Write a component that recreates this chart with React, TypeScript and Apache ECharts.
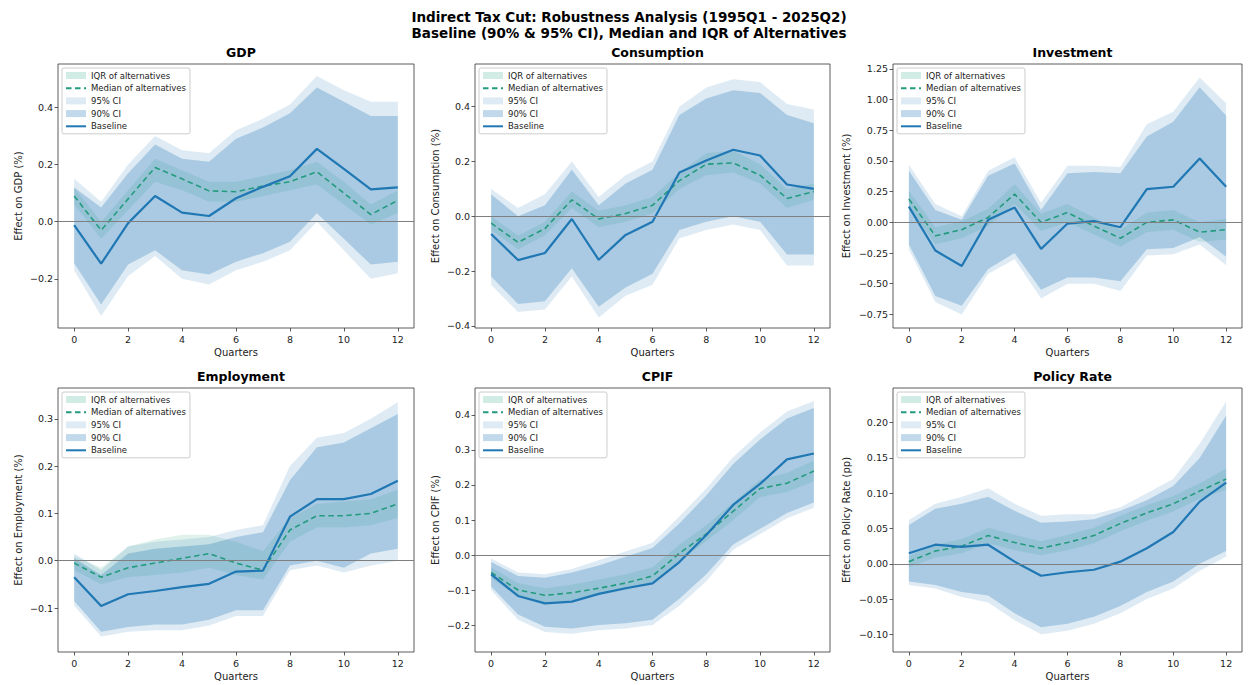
import React, { useEffect, useRef } from "react";
import * as echarts from "echarts";

// ---------------- DATA ----------------
const QUARTERS = [0, 1, 2, 3, 4, 5, 6, 7, 8, 9, 10, 11, 12];
const X_TICKS = [0, 2, 4, 6, 8, 10, 12];

const PANEL_TITLES = ["GDP", "Consumption", "Investment", "Employment", "CPIF", "Policy Rate"];
const Y_NAMES = [
  "Effect on GDP (%)",
  "Effect on Consumption (%)",
  "Effect on Investment (%)",
  "Effect on Employment (%)",
  "Effect on CPIF (%)",
  "Effect on Policy Rate (pp)",
];

// GDP
const gdpBase = [-0.012, -0.147, -0.005, 0.09, 0.032, 0.02, 0.082, 0.122, 0.159, 0.255, 0.185, 0.113, 0.12];
const gdpMed = [0.09, -0.03, 0.08, 0.19, 0.15, 0.108, 0.105, 0.125, 0.14, 0.175, 0.1, 0.025, 0.075];
const gdpIqrLo = [0.06, -0.06, 0.04, 0.14, 0.11, 0.07, 0.07, 0.09, 0.11, 0.13, 0.06, -0.01, 0.03];
const gdpIqrHi = [0.12, 0.0, 0.11, 0.22, 0.18, 0.14, 0.14, 0.16, 0.18, 0.21, 0.14, 0.06, 0.11];
const gdpLo90 = [-0.145, -0.29, -0.15, -0.1, -0.17, -0.185, -0.14, -0.11, -0.07, 0.03, -0.06, -0.15, -0.14];
const gdpHi90 = [0.12, 0.05, 0.17, 0.27, 0.22, 0.21, 0.29, 0.33, 0.38, 0.47, 0.42, 0.37, 0.37];
const gdpLo95 = [-0.17, -0.33, -0.19, -0.12, -0.2, -0.22, -0.17, -0.14, -0.1, 0.0, -0.1, -0.2, -0.18];
const gdpHi95 = [0.15, 0.07, 0.2, 0.3, 0.25, 0.24, 0.32, 0.36, 0.41, 0.51, 0.46, 0.42, 0.42];

// Consumption
const conBase = [-0.065, -0.16, -0.134, -0.01, -0.159, -0.068, -0.02, 0.16, 0.204, 0.243, 0.222, 0.116, 0.1];
const conMed = [-0.025, -0.095, -0.045, 0.06, -0.01, 0.01, 0.04, 0.13, 0.19, 0.195, 0.15, 0.065, 0.09];
const conIqrLo = [-0.05, -0.12, -0.07, 0.03, -0.04, -0.02, 0.01, 0.1, 0.15, 0.16, 0.12, 0.03, 0.06];
const conIqrHi = [0.0, -0.07, -0.02, 0.09, 0.02, 0.04, 0.07, 0.16, 0.23, 0.24, 0.19, 0.1, 0.12];
const conLo90 = [-0.22, -0.32, -0.31, -0.19, -0.33, -0.26, -0.21, -0.05, -0.02, 0.0, -0.02, -0.14, -0.14];
const conHi90 = [0.08, 0.0, 0.04, 0.17, 0.04, 0.12, 0.17, 0.37, 0.43, 0.46, 0.45, 0.37, 0.34];
const conLo95 = [-0.25, -0.35, -0.34, -0.22, -0.37, -0.29, -0.25, -0.08, -0.05, -0.03, -0.05, -0.18, -0.18];
const conHi95 = [0.1, 0.03, 0.08, 0.2, 0.07, 0.15, 0.2, 0.4, 0.47, 0.5, 0.49, 0.41, 0.39];

// Investment
const invBase = [0.128, -0.23, -0.356, 0.02, 0.12, -0.217, -0.01, 0.01, -0.04, 0.27, 0.29, 0.52, 0.29];
const invMed = [0.19, -0.11, -0.06, 0.04, 0.23, 0.0, 0.08, -0.03, -0.13, 0.0, 0.02, -0.08, -0.06];
const invIqrLo = [0.12, -0.18, -0.13, -0.03, 0.15, -0.07, 0.0, -0.1, -0.2, -0.08, -0.06, -0.16, -0.14];
const invIqrHi = [0.26, -0.04, 0.01, 0.11, 0.31, 0.07, 0.15, 0.04, -0.06, 0.08, 0.1, 0.0, 0.03];
const invLo90 = [-0.18, -0.6, -0.68, -0.38, -0.25, -0.55, -0.45, -0.45, -0.48, -0.22, -0.21, -0.12, -0.28];
const invHi90 = [0.42, 0.1, 0.02, 0.38, 0.48, 0.1, 0.4, 0.41, 0.4, 0.7, 0.82, 1.1, 0.87];
const invLo95 = [-0.22, -0.65, -0.75, -0.42, -0.3, -0.62, -0.5, -0.5, -0.56, -0.27, -0.26, -0.18, -0.35];
const invHi95 = [0.47, 0.15, 0.05, 0.42, 0.53, 0.16, 0.46, 0.46, 0.45, 0.8, 0.9, 1.18, 0.97];

// Employment
const empBase = [-0.035, -0.096, -0.071, -0.064, -0.056, -0.049, -0.023, -0.021, 0.093, 0.13, 0.13, 0.141, 0.169];
const empMed = [-0.005, -0.035, -0.015, -0.005, 0.005, 0.015, -0.005, -0.02, 0.065, 0.095, 0.095, 0.1, 0.12];
const empIqrLo = [-0.02, -0.05, -0.035, -0.03, -0.025, -0.015, -0.03, -0.04, 0.04, 0.07, 0.07, 0.075, 0.09];
const empIqrHi = [0.01, -0.015, 0.03, 0.045, 0.055, 0.055, 0.04, 0.02, 0.09, 0.12, 0.125, 0.13, 0.15];
const empLo90 = [-0.085, -0.15, -0.14, -0.135, -0.135, -0.125, -0.105, -0.105, -0.01, 0.0, -0.015, 0.015, 0.025];
const empHi90 = [0.005, -0.03, 0.015, 0.025, 0.03, 0.035, 0.05, 0.06, 0.17, 0.24, 0.25, 0.28, 0.31];
const empLo95 = [-0.095, -0.16, -0.15, -0.147, -0.147, -0.137, -0.117, -0.117, -0.02, -0.01, -0.025, -0.01, 0.0];
const empHi95 = [0.015, -0.02, 0.03, 0.04, 0.045, 0.05, 0.065, 0.075, 0.2, 0.26, 0.27, 0.3, 0.335];

// CPIF
const cpiBase = [-0.055, -0.117, -0.138, -0.133, -0.111, -0.095, -0.081, -0.02, 0.057, 0.143, 0.203, 0.273, 0.29];
const cpiMed = [-0.05, -0.1, -0.115, -0.108, -0.095, -0.08, -0.06, 0.005, 0.06, 0.125, 0.19, 0.205, 0.24];
const cpiIqrLo = [-0.065, -0.12, -0.135, -0.13, -0.115, -0.1, -0.08, -0.02, 0.04, 0.1, 0.165, 0.18, 0.21];
const cpiIqrHi = [-0.035, -0.08, -0.095, -0.085, -0.07, -0.055, -0.035, 0.03, 0.085, 0.15, 0.215, 0.235, 0.27];
const cpiLo90 = [-0.09, -0.17, -0.205, -0.21, -0.2, -0.195, -0.185, -0.125, -0.055, 0.03, 0.075, 0.12, 0.15];
const cpiHi90 = [-0.02, -0.06, -0.065, -0.05, -0.03, -0.005, 0.02, 0.09, 0.17, 0.26, 0.33, 0.39, 0.42];
const cpiLo95 = [-0.1, -0.185, -0.22, -0.225, -0.215, -0.21, -0.2, -0.145, -0.075, 0.015, 0.06, 0.105, 0.135];
const cpiHi95 = [-0.01, -0.05, -0.055, -0.04, -0.015, 0.01, 0.035, 0.11, 0.19, 0.28, 0.35, 0.41, 0.44];

// Policy Rate
const polBase = [0.015, 0.027, 0.024, 0.027, 0.003, -0.017, -0.012, -0.0085, 0.003, 0.022, 0.045, 0.088, 0.115];
const polMed = [0.003, 0.018, 0.025, 0.04, 0.03, 0.022, 0.03, 0.04, 0.057, 0.072, 0.085, 0.103, 0.12];
const polIqrLo = [-0.005, 0.009, 0.015, 0.029, 0.019, 0.012, 0.019, 0.029, 0.046, 0.061, 0.074, 0.092, 0.105];
const polIqrHi = [0.011, 0.027, 0.035, 0.051, 0.041, 0.032, 0.041, 0.051, 0.068, 0.083, 0.096, 0.114, 0.135];
const polLo90 = [-0.025, -0.03, -0.04, -0.045, -0.07, -0.09, -0.085, -0.075, -0.06, -0.04, -0.025, 0.0, 0.018];
const polHi90 = [0.055, 0.078, 0.085, 0.095, 0.075, 0.058, 0.06, 0.063, 0.075, 0.09, 0.11, 0.15, 0.21];
const polLo95 = [-0.03, -0.035, -0.047, -0.055, -0.08, -0.1, -0.095, -0.085, -0.07, -0.05, -0.035, -0.01, 0.01];
const polHi95 = [0.062, 0.085, 0.095, 0.107, 0.085, 0.068, 0.07, 0.07, 0.08, 0.1, 0.12, 0.17, 0.23];

// y-axis ranges and tick labels
const Y_MIN = [-0.372, -0.408, -0.861, -0.193, -0.277, -0.125];
const Y_MAX = [0.552, 0.556, 1.29, 0.365, 0.477, 0.249];
const Y_TICKS = [
  [-0.2, 0, 0.2, 0.4],
  [-0.4, -0.2, 0, 0.2, 0.4],
  [-0.75, -0.5, -0.25, 0, 0.25, 0.5, 0.75, 1.0, 1.25],
  [-0.1, 0, 0.1, 0.2, 0.3],
  [-0.2, -0.1, 0, 0.1, 0.2, 0.3, 0.4],
  [-0.1, -0.05, 0, 0.05, 0.1, 0.15, 0.2],
];
const Y_DECIMALS = [1, 1, 2, 1, 1, 2];

const PANELS = [
  { base: gdpBase, med: gdpMed, iqrLo: gdpIqrLo, iqrHi: gdpIqrHi, lo90: gdpLo90, hi90: gdpHi90, lo95: gdpLo95, hi95: gdpHi95 },
  { base: conBase, med: conMed, iqrLo: conIqrLo, iqrHi: conIqrHi, lo90: conLo90, hi90: conHi90, lo95: conLo95, hi95: conHi95 },
  { base: invBase, med: invMed, iqrLo: invIqrLo, iqrHi: invIqrHi, lo90: invLo90, hi90: invHi90, lo95: invLo95, hi95: invHi95 },
  { base: empBase, med: empMed, iqrLo: empIqrLo, iqrHi: empIqrHi, lo90: empLo90, hi90: empHi90, lo95: empLo95, hi95: empHi95 },
  { base: cpiBase, med: cpiMed, iqrLo: cpiIqrLo, iqrHi: cpiIqrHi, lo90: cpiLo90, hi90: cpiHi90, lo95: cpiLo95, hi95: cpiHi95 },
  { base: polBase, med: polMed, iqrLo: polIqrLo, iqrHi: polIqrHi, lo90: polLo90, hi90: polHi90, lo95: polLo95, hi95: polHi95 },
];

const N_IQR = "IQR of alternatives";
const N_MED = "Median of alternatives";
const N_95 = "95% CI";
const N_90 = "90% CI";
const N_BASE = "Baseline";

// ---------------- STYLE ----------------
const FONT = "DejaVu Sans";
const C_BASE = "#1f77b4";
const C_MED = "#239b7e";
const C_IQR = "rgba(27,158,119,0.13)";
const C_IQR_LEGEND = "rgba(27,158,119,0.2)";
const C_95 = "rgba(31,119,180,0.15)";
const C_90 = "rgba(31,119,180,0.28)";

const GRIDS = [
  { left: 58, top: 64, width: 356, height: 264 },
  { left: 475, top: 64, width: 355, height: 264 },
  { left: 893, top: 64, width: 349, height: 264 },
  { left: 58, top: 388, width: 356, height: 264 },
  { left: 475, top: 388, width: 355, height: 264 },
  { left: 893, top: 388, width: 349, height: 264 },
];
const Y_NAME_GAP = [35, 35, 42, 35, 35, 42];

function fmt(v: number, d: number): string {
  const s = Math.abs(v).toFixed(d);
  return (v < -1e-9 ? "\u2212" : "") + s;
}

function bandPolygon(lo: number[], hi: number[]): number[][] {
  const pts: number[][] = [];
  QUARTERS.forEach((q, i) => pts.push([q, hi[i]]));
  for (let i = QUARTERS.length - 1; i >= 0; i--) pts.push([QUARTERS[i], lo[i]]);
  return pts;
}

function bandSeries(name: string, lo: number[], hi: number[], color: string, idx: number) {
  const poly = bandPolygon(lo, hi);
  return {
    type: "custom",
    name,
    xAxisIndex: idx,
    yAxisIndex: idx,
    silent: true,
    itemStyle: { color },
    data: poly,
    encode: { x: 0, y: 1 },
    renderItem: (params: any, api: any) => {
      if (params.dataIndex !== 0) return null;
      const points = poly.map((p) => api.coord(p));
      return { type: "polygon", shape: { points }, style: { fill: color } };
    },
  };
}

function buildOption() {
  const grid: any[] = [];
  const xAxis: any[] = [];
  const yAxis: any[] = [];
  const series: any[] = [];
  const legend: any[] = [];
  const title: any[] = [
    {
      text: "Indirect Tax Cut: Robustness Analysis (1995Q1 - 2025Q2)\nBaseline (90% & 95% CI), Median and IQR of Alternatives",
      left: 624,
      top: 4,
      textAlign: "center",
      textStyle: { fontFamily: FONT, fontSize: 13.5, fontWeight: "bold", color: "#000", lineHeight: 16 },
    },
  ];

  PANELS.forEach((p, i) => {
    const g = GRIDS[i];
    grid.push({ ...g, show: true, borderColor: "#333", borderWidth: 0.8, backgroundColor: "transparent" });
    title.push({
      text: PANEL_TITLES[i],
      left: g.left + g.width / 2,
      top: g.top - 23,
      textAlign: "center",
      textStyle: { fontFamily: FONT, fontSize: 12.5, fontWeight: "bold", color: "#000" },
    });
    xAxis.push({
      type: "value",
      gridIndex: i,
      min: -0.6,
      max: 12.6,
      name: "Quarters",
      nameLocation: "middle",
      nameGap: 19,
      nameTextStyle: { fontFamily: FONT, fontSize: 10, color: "#222" },
      axisLine: { show: false, onZero: false },
      axisTick: { show: true, length: 3.5, lineStyle: { color: "#333", width: 0.8 }, customValues: X_TICKS },
      axisLabel: {
        fontFamily: FONT,
        fontSize: 9.5,
        color: "#222",
        margin: 6,
        customValues: X_TICKS,
        formatter: (v: number) => String(v),
      },
      splitLine: { show: false },
    });
    yAxis.push({
      type: "value",
      gridIndex: i,
      min: Y_MIN[i],
      max: Y_MAX[i],
      name: Y_NAMES[i],
      nameLocation: "middle",
      nameGap: Y_NAME_GAP[i],
      nameTextStyle: { fontFamily: FONT, fontSize: 10, color: "#222" },
      axisLine: { show: false, onZero: false },
      axisTick: { show: true, length: 3.5, lineStyle: { color: "#333", width: 0.8 }, customValues: Y_TICKS[i] },
      axisLabel: {
        fontFamily: FONT,
        fontSize: 9.5,
        color: "#222",
        margin: 5,
        customValues: Y_TICKS[i],
        formatter: (v: number) => fmt(v, Y_DECIMALS[i]),
      },
      splitLine: { show: false },
    });

    series.push(bandSeries(N_IQR, p.iqrLo, p.iqrHi, C_IQR, i));
    series.push(bandSeries(N_95, p.lo95, p.hi95, C_95, i));
    series.push(bandSeries(N_90, p.lo90, p.hi90, C_90, i));
    series.push({
      type: "line",
      name: N_MED,
      xAxisIndex: i,
      yAxisIndex: i,
      data: QUARTERS.map((q, k) => [q, p.med[k]]),
      symbol: "none",
      silent: true,
      lineStyle: { color: C_MED, width: 1.6, type: [5.5, 3.5] },
      itemStyle: { color: C_MED },
      markLine: {
        silent: true,
        symbol: "none",
        label: { show: false },
        lineStyle: { color: "#7f7f7f", width: 1, type: "solid" },
        data: [{ yAxis: 0 }],
      },
    });
    series.push({
      type: "line",
      name: N_BASE,
      xAxisIndex: i,
      yAxisIndex: i,
      data: QUARTERS.map((q, k) => [q, p.base[k]]),
      symbol: "none",
      silent: true,
      lineStyle: { color: C_BASE, width: 2.2 },
      itemStyle: { color: C_BASE },
    });

    legend.push({
      orient: "vertical",
      left: g.left + 4,
      top: g.top + 4,
      itemWidth: 20,
      itemHeight: 7,
      itemGap: 3.7,
      padding: [3, 4, 3, 3],
      borderColor: "#cccccc",
      borderWidth: 1,
      borderRadius: 2,
      backgroundColor: "rgba(255,255,255,0.8)",
      selectedMode: false,
      textStyle: { fontFamily: FONT, fontSize: 8.5, color: "#222", padding: [0, 0, 0, 0] },
      data: [
        { name: N_IQR, icon: "rect", itemStyle: { color: C_IQR_LEGEND } },
        { name: N_MED, itemStyle: { opacity: 0 } },
        { name: N_95, icon: "rect", itemStyle: { color: C_95 } },
        { name: N_90, icon: "rect", itemStyle: { color: C_90 } },
        { name: N_BASE, itemStyle: { opacity: 0 } },
      ],
    });
  });

  return {
    animation: false,
    backgroundColor: "#ffffff",
    title,
    grid,
    xAxis,
    yAxis,
    legend,
    series,
  };
}

export default function App() {
  const ref = useRef<HTMLDivElement>(null);
  useEffect(() => {
    if (!ref.current) return;
    const chart = echarts.init(ref.current, undefined, { renderer: "svg" });
    chart.setOption(buildOption() as any);
    return () => chart.dispose();
  }, []);
  return (
    <div
      ref={ref}
      style={{ position: "fixed", left: 0, top: 0, width: 1249, height: 685, background: "#fff" }}
    />
  );
}
